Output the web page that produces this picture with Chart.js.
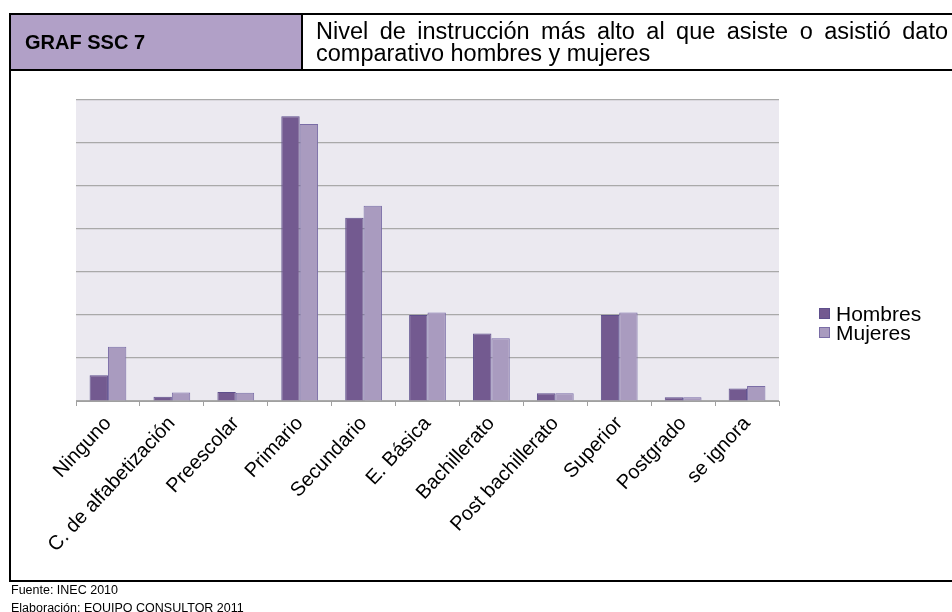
<!DOCTYPE html>
<html>
<head>
<meta charset="utf-8">
<script src="https://cdn.jsdelivr.net/npm/chart.js@4.4.1/dist/chart.umd.min.js"></script>
<style>
  html, body { margin:0; padding:0; width:952px; height:612px; overflow:hidden; background:#fff; font-family: Arial, "Liberation Sans", sans-serif; }
  #wrap { position:relative; width:952px; height:612px; overflow:hidden; }
  canvas { position:absolute; left:0; top:0; }
  .ln { position:absolute; background:#000; }
  #hdrL { position:absolute; left:11px; top:15px; width:290px; height:54px; background:#b1a0c7; }
  #code { position:absolute; left:25px; top:30px; font-weight:bold; font-size:20px; line-height:24px; }
  #title { position:absolute; left:316px; top:20px; width:632px; font-size:23.5px; line-height:22px; text-align:justify; }
  #legend { position:absolute; left:819px; top:304px; font-size:21px; line-height:19px; }
  #legend .it { display:flex; align-items:center; white-space:nowrap; height:19px; }
  #legend .sw { width:11px; height:11px; margin-right:6px; box-sizing:border-box; border:1px solid; }
  .foot { position:absolute; left:11px; font-size:12.5px; line-height:15px; white-space:nowrap; }
</style>
</head>
<body>
<div id="wrap">
  <div id="hdrL"></div>
  <canvas id="c" width="952" height="612"></canvas>
  <div class="ln" style="left:9px; top:13px; width:943px; height:2px;"></div>
  <div class="ln" style="left:9px; top:69px; width:943px; height:2px;"></div>
  <div class="ln" style="left:301px; top:13px; width:2px; height:58px;"></div>
  <div class="ln" style="left:9px; top:13px; width:2px; height:569px;"></div>
  <div class="ln" style="left:9px; top:580px; width:943px; height:2px;"></div>
  <div id="code">GRAF SSC 7</div>
  <div id="title">Nivel de instrucción más alto al que asiste o asistió dato comparativo hombres y mujeres</div>
  <div id="legend"></div>
  <div class="foot" style="top:583px;">Fuente: INEC 2010</div>
  <div class="foot" style="top:601px;">Elaboración: EQUIPO CONSULTOR 2011</div>
</div>
<script>
const categories = ["Ninguno", "C. de alfabetización", "Preescolar", "Primario", "Secundario", "E. Básica", "Bachillerato", "Post bachillerato", "Superior", "Postgrado", "se ignora"];
const hombres = [3.0, 0.5, 1.05, 33.1, 21.3, 10.0, 7.85, 0.9, 10.0, 0.45, 1.45];
const mujeres = [6.3, 1.0, 0.95, 32.2, 22.7, 10.3, 7.3, 0.9, 10.3, 0.45, 1.75];
const seriesNames = ["Hombres", "Mujeres"];
const yMax = 35;
const yStep = 5;

const plotBg = {
  id: 'plotBg',
  beforeDraw(chart) {
    const a = chart.chartArea, ctx = chart.ctx;
    ctx.save();
    ctx.fillStyle = '#ebe9f0';
    ctx.fillRect(a.left, a.top, a.right - a.left, a.bottom - a.top);
    ctx.restore();
  }
};

const chart = new Chart(document.getElementById('c'), {
  type: 'bar',
  data: {
    labels: categories,
    datasets: [
      { label: seriesNames[0], data: hombres, backgroundColor: '#735a90', borderColor: '#5e4f8c', borderWidth: 1 },
      { label: seriesNames[1], data: mujeres, backgroundColor: '#a99bbf', borderColor: '#7a6da6', borderWidth: 1 }
    ]
  },
  options: {
    responsive: false,
    animation: false,
    devicePixelRatio: 1,
    layout: { padding: { left: 76, right: 173, top: 100, bottom: 21 } },
    plugins: { legend: { display: false }, tooltip: { enabled: false } },
    datasets: { bar: { categoryPercentage: 0.575, barPercentage: 1.0 } },
    scales: {
      x: {
        grid: { display: true, drawOnChartArea: false, offset: true, color: '#a0a0a0', tickLength: 5, lineWidth: 1 },
        border: { display: true, color: '#a0a0a0', width: 1 },
        ticks: { autoSkip: false, maxRotation: 47, minRotation: 47, color: '#000', padding: 6, font: { family: 'Arial, "Liberation Sans", sans-serif', size: 20 } },
        afterFit(scale) { scale.height = 190; }
      },
      y: {
        min: 0, max: yMax,
        ticks: { display: false, stepSize: yStep },
        grid: { color: '#a9a9a9', lineWidth: 1.2, drawTicks: false },
        border: { display: false },
        afterFit(scale) { scale.width = 0; }
      }
    }
  },
  plugins: [plotBg]
});

const leg = document.getElementById('legend');
chart.data.datasets.forEach(ds => {
  const it = document.createElement('div');
  it.className = 'it';
  const sw = document.createElement('span');
  sw.className = 'sw';
  sw.style.background = ds.backgroundColor;
  sw.style.borderColor = ds.borderColor;
  const tx = document.createElement('span');
  tx.textContent = ds.label;
  it.appendChild(sw); it.appendChild(tx);
  leg.appendChild(it);
});
</script>
</body>
</html>
